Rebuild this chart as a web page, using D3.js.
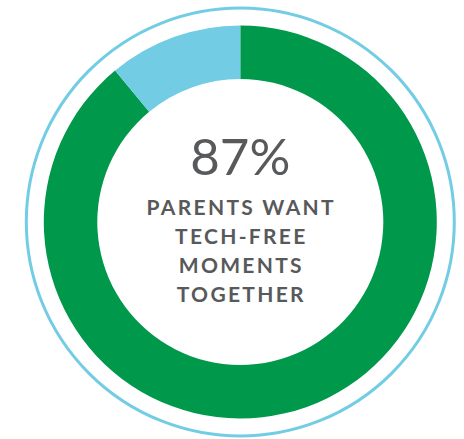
<!DOCTYPE html>
<html>
<head>
<meta charset="utf-8">
<script src="https://cdn.jsdelivr.net/npm/d3@7"></script>
<style>
  html, body { margin: 0; padding: 0; background: #fff; }
  svg { display: block; }
</style>
</head>
<body>
<svg id="chart"></svg>
<script>
// shares as drawn in the ring (the blue slice covers ~40 degrees)
const segments = ["want", "other"];
const shares = [89, 11];
const headline = "87%";
const caption = ["PARENTS WANT", "TECH-FREE", "MOMENTS", "TOGETHER"];

const width = 464, height = 439;
const cx = 240.3, cy = 222;

const color = d3.scaleOrdinal()
  .domain(segments)
  .range(["#00984a", "#72cde4"]);

const svg = d3.select("svg#chart")
  .attr("width", width)
  .attr("height", height);

const g = svg.append("g")
  .attr("transform", "translate(" + cx + "," + cy + ")");

// thin outer ring
g.append("circle")
  .attr("r", 214)
  .attr("fill", "none")
  .attr("stroke", "#72cde4")
  .attr("stroke-width", 3);

// donut: green clockwise from top, blue fills the rest
const pie = d3.pie()
  .sort(null)
  .value(d => d);

const arc = d3.arc()
  .innerRadius(143)
  .outerRadius(196.5);

g.selectAll("path.slice")
  .data(pie(shares))
  .enter().append("path")
  .attr("class", "slice")
  .attr("fill", (d, i) => color(segments[i]))
  .attr("d", arc);

// centre text
g.append("text")
  .attr("x", 0)
  .attr("y", 175 - cy)
  .attr("text-anchor", "middle")
  .attr("font-family", "Lato, 'Open Sans', sans-serif")
  .attr("font-weight", 400)
  .attr("font-size", 51)
  .attr("fill", "#58595b")
  .text(headline);

g.selectAll("text.caption")
  .data(caption)
  .enter().append("text")
  .attr("class", "caption")
  .attr("x", 1)
  .attr("y", (d, i) => 214.5 - cy + i * 29.1)
  .attr("text-anchor", "middle")
  .attr("font-family", "Lato, 'Open Sans', sans-serif")
  .attr("font-weight", 700)
  .attr("font-size", 21)
  .attr("letter-spacing", 2.3)
  .attr("fill", "#58595b")
  .text(d => d);
</script>
</body>
</html>
